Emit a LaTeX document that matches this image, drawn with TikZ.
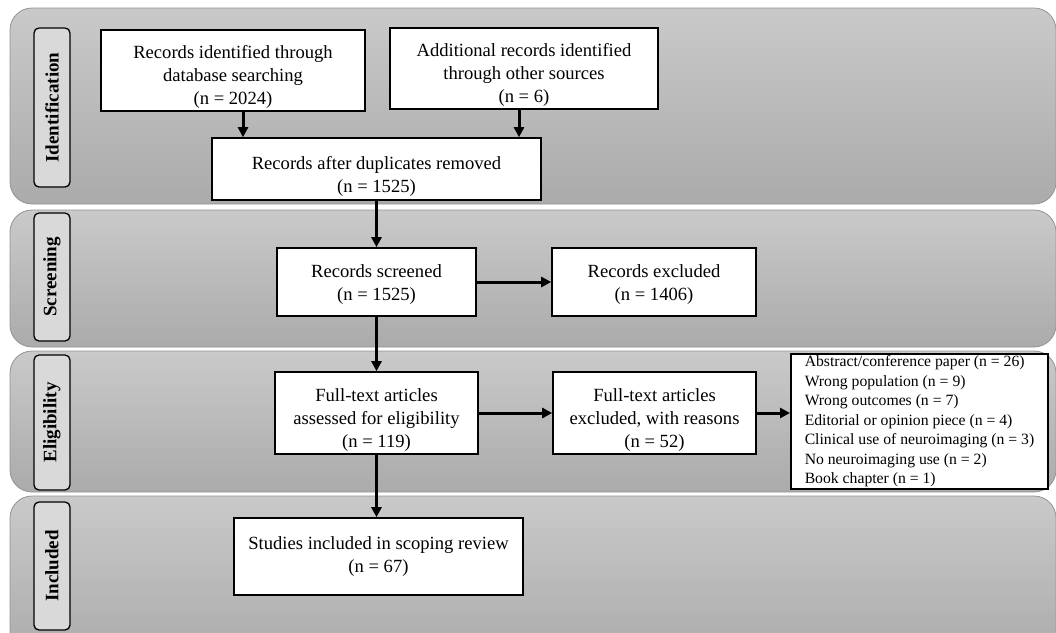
\documentclass[tikz,border=0pt]{standalone}
\usepackage{fontspec}
\setmainfont{Liberation Serif}
\usetikzlibrary{calc,arrows.meta}
\newcommand{\boxtext}[2][6pt]{\raisebox{-#1}[\height][\depth]{\begin{tabular}{@{}c@{}}#2\end{tabular}}}
\tikzset{
	band/.style={draw=black!42, line width=0.8pt, rounded corners=22pt, top color=black!21, bottom color=black!33},
	stage/.style={draw=black, line width=1.3pt, rounded corners=5pt, fill=black!15, rotate=90, minimum height=36pt, inner sep=0pt, font=\bfseries\fontsize{19}{22}\selectfont},
	recbox/.style={draw=black, line width=1.6pt, fill=white, align=center, inner sep=0pt, font=\fontsize{18.6}{23}\selectfont},
	flow/.style={line width=3pt, -{Triangle[length=10pt, width=10pt]}}
}

\begin{document}
\begin{tikzpicture}[x=1pt, y=-1pt]
		%%%%% START %%%%%
		\useasboundingbox (0, 0) rectangle (1056, 632);
		\clip (0, 0) rectangle (1056, 632);
		
		\draw[band] (10, 8) rectangle (1056, 204);
		\draw[band] (10, 210) rectangle (1056, 347);
		\draw[band] (10, 351) rectangle (1056, 492);
		\draw[band] (10, 496) rectangle (1056, 660);
		
		\node[stage, minimum width=159pt] (lid) at (52, 107.5) {Identification};
		\node[stage, minimum width=128pt] (lsc) at (52, 277) {Screening};
		\node[stage, minimum width=135pt] (lel) at (52, 422.5) {Eligibility};
		\node[stage, minimum width=128pt] (lin) at (52, 566) {Included};
		
		\node[recbox, minimum width=264pt, minimum height=81pt] (rec1) at (233, 70.5) {\boxtext{Records identified through\\database searching\\(n = 2024)}};
		\node[recbox, minimum width=268pt, minimum height=81pt] (add) at (524, 68.5) {\boxtext{Additional records identified\\through other sources\\(n = 6)}};
		\node[recbox, minimum width=329pt, minimum height=62pt] (dup) at (376.5, 169) {\boxtext[7pt]{Records after duplicates removed\\(n = 1525)}};
		
		\node[recbox, minimum width=199pt, minimum height=68pt] (scr) at (376.5, 282) {\boxtext[2pt]{Records screened\\(n = 1525)}};
		\node[recbox, minimum width=204pt, minimum height=68pt] (exc) at (654, 282) {\boxtext[2pt]{Records excluded\\(n = 1406)}};
		
		\node[recbox, minimum width=203pt, minimum height=82pt] (ftx) at (376.5, 413) {\boxtext[7pt]{Full-text articles\\assessed for eligibility\\(n = 119)}};
		\node[recbox, minimum width=203pt, minimum height=82pt] (fex) at (654.5, 413) {\boxtext[7pt]{Full-text articles\\excluded, with reasons\\(n = 52)}};
		\node[recbox, line width=2pt, align=left, minimum width=257pt, minimum height=135pt, font=\fontsize{15.7}{19.5}\selectfont] (rsn) at (919.5, 421.5) {Abstract/conference paper (n = 26)\\Wrong population (n = 9)\\Wrong outcomes (n = 7)\\Editorial or opinion piece (n = 4)\\Clinical use of neuroimaging (n = 3)\\No neuroimaging use (n = 2)\\Book chapter (n = 1)};
		
		\node[recbox, minimum width=289pt, minimum height=77pt] (inc) at (378.5, 556.5) {\boxtext[0pt]{Studies included in scoping review\\(n = 67)}};
		
		\draw[flow] ([xshift=10pt]rec1.south) -- ([xshift=10pt]rec1.south |- dup.north);
		\draw[flow] ([xshift=-5pt]add.south) -- ([xshift=-5pt]add.south |- dup.north);
		\draw[flow] (dup.south) -- (scr.north);
		\draw[flow] (scr.east) -- (exc.west);
		\draw[flow] (scr.south) -- (ftx.north);
		\draw[flow] (ftx.east) -- (fex.west);
		\draw[flow] (fex.east) -- (fex.east -| rsn.west);
		\draw[flow] (ftx.south) -- (ftx.south |- inc.north);
		
		%%%%% END %%%%%
	\end{tikzpicture}
\end{document}
